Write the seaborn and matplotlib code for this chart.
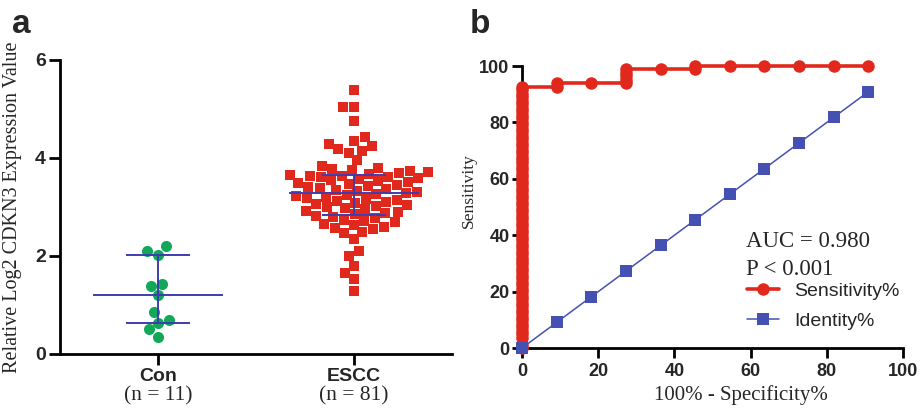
import numpy as np
import pandas as pd
import matplotlib
matplotlib.use("Agg")
import matplotlib.pyplot as plt
import seaborn as sns

# --- data ---
groups = ["Con", "ESCC"]
group_n = ["(n = 11)", "(n = 81)"]

con_vals = [2.10, 2.03, 2.20, 1.42, 1.38, 1.20, 0.85, 0.64, 0.70, 0.50, 0.35]

escc_high = [5.39, 5.05, 5.05, 4.76, 4.42, 4.35, 4.29, 4.25, 4.18, 4.15, 4.11, 3.95]
escc_low = [2.49, 2.46, 2.34, 2.11, 2.00, 1.80, 1.66, 1.52, 1.29]
escc_core = [2.55, 2.58, 2.60, 2.63, 2.66, 2.69, 2.72, 2.74, 2.77, 2.80, 2.82,
             2.85, 2.88, 2.90, 2.92, 2.95, 2.97, 2.99, 3.02, 3.04,
             3.06, 3.09, 3.11, 3.13, 3.15, 3.17, 3.19, 3.21, 3.23, 3.25, 3.27,
             3.29, 3.31, 3.33, 3.35, 3.37, 3.39, 3.41, 3.43, 3.45, 3.47, 3.49,
             3.51, 3.53, 3.55, 3.57, 3.59, 3.61, 3.62, 3.63, 3.64, 3.65,
             3.67, 3.69, 3.71, 3.73, 3.75, 3.77, 3.80, 3.83]
escc_vals = escc_high + escc_core + escc_low

auc_text = "AUC = 0.980"
p_text = "P < 0.001"

# colours
red = "#e1281c"
green = "#12a85a"
bar_blue = "#3f3cb0"
id_blue = "#4451b3"

sns.set_style("ticks")
plt.rcParams["font.family"] = ["Liberation Sans", "DejaVu Sans"]
serif = ["Liberation Serif", "DejaVu Serif"]

df = pd.DataFrame({
    "group": ["Con"] * len(con_vals) + ["ESCC"] * len(escc_vals),
    "value": con_vals + escc_vals,
})

fig = plt.figure(figsize=(9.21, 4.08), dpi=100)
ax1 = fig.add_axes([0.0651, 0.1324, 0.4257, 0.7206])
ax2 = fig.add_axes([0.5668, 0.147, 0.4137, 0.6912])

# --- panel a : scatter dot plot ---
sns.swarmplot(data=df[df.group == "Con"], x="group", y="value", order=groups,
              color=green, marker="o", size=8, linewidth=0, ax=ax1, zorder=3)
sns.swarmplot(data=df[df.group == "ESCC"], x="group", y="value", order=groups,
              color=red, marker="s", size=7.8, linewidth=0, ax=ax1, zorder=3)

# median with interquartile range
for i, g in enumerate(groups):
    vals = df.loc[df.group == g, "value"].values
    q1, med, q3 = np.percentile(vals, [25, 50, 75], method="weibull")
    ax1.hlines(med, i - 0.33, i + 0.33, color=bar_blue, lw=1.4, zorder=5)
    ax1.hlines([q1, q3], i - 0.165, i + 0.165, color=bar_blue, lw=1.4, zorder=5)
    ax1.vlines(i, q1, q3, color=bar_blue, lw=1.4, zorder=5)

ax1.set_xlim(-0.5, 1.5)
ax1.set_ylim(0, 6)
ax1.set_yticks([0, 2, 4, 6])
ax1.set_xlabel("")
ax1.set_ylabel("Relative Log2 CDKN3 Expression Value", family=serif, fontsize=14.5)
ax1.yaxis.set_label_coords(-0.097, 0.5)
ax1.set_xticks(range(len(groups)))
ax1.set_xticklabels(groups, fontweight="bold", fontsize=14)
for lab in ax1.get_yticklabels():
    lab.set_fontweight("bold")
    lab.set_fontsize(14)
for i, txt in enumerate(group_n):
    ax1.text(i, -0.158, txt, transform=ax1.get_xaxis_transform(), ha="center",
             va="baseline", family=serif, fontsize=15.5)
ax1.tick_params(axis="both", width=2, length=8, pad=2, color="black")

# --- panel b : ROC curve computed from the panel a values ---
con_arr = np.array(con_vals)
escc_arr = np.array(escc_vals)
levels = np.sort(np.unique(np.r_[con_arr, escc_arr]))[::-1]
cuts = np.r_[levels[0] + 1, (levels[:-1] + levels[1:]) / 2]
fpr = np.array([(con_arr > t).mean() * 100 for t in cuts])
sens = np.array([(escc_arr > t).mean() * 100 for t in cuts])
keep = fpr < 100
fpr, sens = fpr[keep], sens[keep]
ident = np.unique(fpr)

sns.lineplot(x=fpr, y=sens, estimator=None, sort=False, color=red, lw=2.6,
             marker="o", markersize=9, markeredgewidth=0, clip_on=False,
             label="Sensitivity%", ax=ax2, zorder=3)
sns.lineplot(x=ident, y=ident, estimator=None, sort=False, color=id_blue, lw=1.1,
             marker="s", markersize=8.5, markeredgewidth=0, clip_on=False,
             label="Identity%", ax=ax2, zorder=4)

ax2.set_xlim(0, 100)
ax2.set_ylim(0, 100)
ax2.set_xticks(range(0, 101, 20))
ax2.set_yticks(range(0, 101, 20))
for lab in ax2.get_xticklabels() + ax2.get_yticklabels():
    lab.set_fontweight("bold")
    lab.set_fontsize(13)
ax2.tick_params(axis="both", width=2, length=7, pad=2, color="black")
ax2.tick_params(axis="x", pad=4)
ax2.set_xlabel("100% - Specificity%", family=serif, fontsize=15)
ax2.xaxis.set_label_coords(0.575, -0.13)
ax2.set_ylabel("Sensitivity", family=serif, fontsize=12.5)
ax2.yaxis.set_label_coords(-0.118, 0.56)

ax2.text(0.588, 0.358, auc_text, transform=ax2.transAxes, family=serif,
         fontsize=16.5, va="baseline")
ax2.text(0.588, 0.259, p_text, transform=ax2.transAxes, family=serif,
         fontsize=16.5, va="baseline")
ax2.legend(loc="lower left", bbox_to_anchor=(0.566, 0.03), frameon=False,
           fontsize=14, handlelength=1.6, handletextpad=0.8, labelspacing=0.62,
           borderpad=0)

for ax in (ax1, ax2):
    sns.despine(ax=ax)
    for sp in ("left", "bottom"):
        ax.spines[sp].set_linewidth(2)
        ax.spines[sp].set_color("black")

fig.text(12 / 921, 1 - 33 / 408, "a", fontweight="bold", fontsize=24, va="baseline")
fig.text(470 / 921, 1 - 33 / 408, "b", fontweight="bold", fontsize=24, va="baseline")

fig.savefig("out.png", dpi=100)
